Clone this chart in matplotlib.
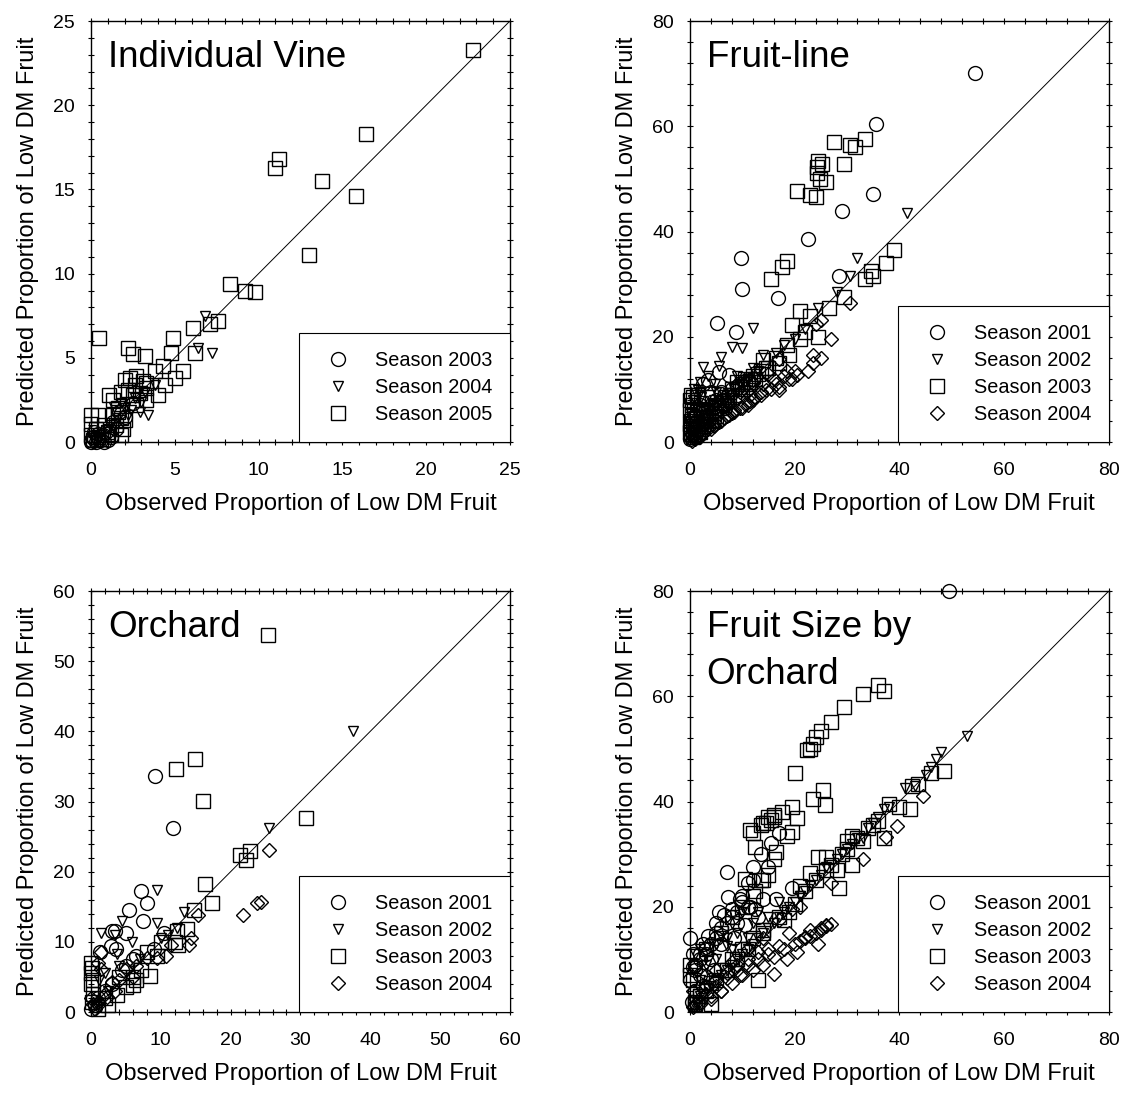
import matplotlib
matplotlib.use('Agg')
import matplotlib.pyplot as plt
from matplotlib.ticker import MultipleLocator

plt.rcParams['font.family'] = ['Liberation Sans', 'DejaVu Sans']

# ---- Individual Vine (2003-2005) ----
vine_2003_x = [0.0, 0.2, 0.5, 1.0, 0.3, 0.1, 0.7, 0.8, 1.2, 0.4, 1.5, 2.0, 1.7, 2.5, 1.3, 0.0, 0.2, 0.6, 0.9]
vine_2003_y = [0.1, 0.2, 0.2, 0.1, 0.0, 0.3, 0.4, 0.0, 0.3, 0.5, 0.8, 1.5, 1.8, 2.3, 1.2, 0.0, 0.6, 0.1, 0.6]
vine_2004_x = [6.8, 6.4, 7.2, 3.4, 2.4, 3.0, 2.0, 1.6, 1.0, 0.4, 1.4, 2.6, 1.8, 0.2, 2.2, 3.8, 3.2, 2.9, 1.2]
vine_2004_y = [7.5, 5.6, 5.3, 1.6, 1.9, 2.4, 2.0, 1.4, 0.8, 0.2, 2.1, 2.6, 2.3, 0.1, 1.6, 3.4, 3.0, 1.8, 1.0]
vine_2005_x = [22.8, 16.4, 11.2, 11.0, 13.8, 15.8, 13.0, 8.3, 9.2, 9.8, 7.6, 7.1, 6.1, 4.9, 0.5,
               2.2, 2.5, 3.2, 4.8, 6.2, 5.5, 4.3, 3.8, 5.0, 4.4, 4.0, 3.3, 2.7, 3.1, 3.3,
               2.0, 2.3, 2.2, 1.8, 1.1, 1.3, 2.5, 2.7, 3.3, 1.6, 1.8, 1.5, 2.0, 1.9, 0.0,
               0.4, 0.0, 0.3, 0.0, 0.4, 1.2, 1.8, 0.8, 1.3, 2.6, 0.1, 0.6, 1.0, 1.6, 2.9]
vine_2005_y = [23.3, 18.3, 16.8, 16.3, 15.5, 14.6, 11.1, 9.4, 9.0, 8.9, 7.2, 7.0, 6.8, 6.2, 6.2,
               5.6, 5.2, 5.1, 5.3, 5.3, 4.2, 4.5, 4.2, 3.8, 3.4, 2.8, 3.2, 3.9, 3.6, 3.5,
               3.7, 3.8, 3.1, 3.0, 2.8, 2.5, 2.8, 2.2, 2.5, 2.0, 1.4, 1.0, 1.3, 0.8, 1.6,
               1.6, 1.1, 0.8, 0.4, 0.3, 0.5, 0.4, 1.0, 1.6, 3.4, 0.1, 0.2, 0.6, 1.8, 2.9]

# ---- Fruit-line (2001-2004) ----
line_2001_x = [54.5, 35.5, 35.0, 29.0, 22.5, 9.8, 10.0, 28.5, 16.8, 5.2, 8.7, 5.5, 7.5, 3.5, 2.5,
               6.0, 4.0, 2.0, 1.0, 0.5, 3.0, 0.2, 1.5, 7.0, 11.0, 9.0, 12.0, 6.6, 4.5, 0.0, 1.2, 2.8,
               0.5, 1.0, 2.0, 3.0, 4.0, 5.0, 6.0, 8.0]
line_2001_y = [70.2, 60.5, 47.2, 44.0, 38.5, 35.0, 29.0, 31.6, 27.3, 22.7, 21.0, 13.4, 12.8, 11.8, 11.0,
               9.2, 9.6, 7.0, 5.0, 3.0, 5.0, 1.0, 2.5, 8.0, 11.5, 10.3, 12.0, 6.5, 4.0, 0.5, 3.0, 4.0,
               1.5, 2.0, 3.5, 6.0, 7.0, 8.0, 9.5, 10.0]
line_2002_x = [41.5, 32.0, 30.5, 28.0, 24.5, 12.0, 18.0, 8.0, 10.0, 6.0, 14.0, 5.5, 2.5, 12.0, 3.5,
               4.8, 2.0, 7.2, 1.5, 0.5, 1.0, 0.3, 3.0, 16.5, 20.0, 22.0, 10.0, 7.0, 3.0, 1.0,
               0.2, 0.8, 2.2, 4.5, 9.0, 5.0, 13.0, 11.0, 0.5, 1.5, 2.5, 3.5, 4.5, 5.5, 6.5, 8.5,
               9.5, 0.0, 1.0, 2.0]
line_2002_y = [43.5, 35.0, 31.5, 28.5, 25.5, 21.7, 18.5, 18.0, 17.8, 16.2, 16.5, 14.5, 14.2, 14.0, 12.5,
               11.0, 11.5, 9.3, 9.8, 8.0, 6.0, 3.0, 6.5, 17.0, 19.5, 21.5, 10.5, 7.3, 3.2, 1.2,
               5.5, 10.0, 8.5, 7.0, 12.5, 9.5, 13.5, 12.0, 2.0, 4.0, 5.0, 6.0, 8.0, 7.5, 9.0, 10.0,
               11.0, 4.0, 8.0, 9.5]
line_2003_x = [24.5, 24.2, 24.3, 25.3, 24.8, 26.0, 27.5, 30.5, 31.5, 33.5, 29.5, 20.5, 23.0, 24.0, 18.5,
               17.5, 15.5, 39.0, 37.5, 34.5, 35.0, 33.5, 29.5, 26.5, 21.0, 19.5, 23.0, 24.5, 22.0, 21.0,
               18.5, 16.5, 19.0, 14.0, 15.0, 12.0, 10.0, 8.0, 6.0, 0.2, 0.5, 1.5, 0.3, 0.1, 0.3,
               0.2, 0.5, 2.0, 4.0, 10.5, 11.0, 17.0, 9.0, 7.0, 5.0, 3.0, 1.0, 0.0, 0.0, 13.0, 2.5,
               0.5, 1.0, 1.5, 2.0, 2.5, 3.0, 3.5, 4.0, 4.5, 5.0, 5.5, 6.5, 7.5, 8.5, 9.5, 10.0,
               11.5, 12.5, 13.5, 14.5, 0.0, 0.2, 0.8, 1.2, 2.2, 3.2]
line_2003_y = [53.5, 52.2, 51.2, 52.8, 50.0, 49.5, 57.0, 56.5, 56.0, 57.5, 52.8, 47.7, 47.0, 46.5, 34.5,
               33.2, 31.0, 36.5, 34.0, 32.5, 31.5, 31.0, 27.5, 25.5, 25.0, 22.3, 24.0, 20.0, 21.0, 19.5,
               18.5, 16.0, 16.5, 15.5, 14.0, 12.5, 11.0, 10.0, 7.5, 9.0, 8.5, 9.0, 7.0, 6.0, 5.0,
               4.0, 3.0, 2.5, 4.2, 12.0, 11.0, 15.0, 11.5, 8.0, 6.0, 3.5, 2.0, 8.0, 2.0, 13.0, 5.5,
               1.0, 1.5, 2.5, 2.0, 3.0, 3.5, 4.5, 4.0, 5.5, 5.0, 6.5, 7.0, 8.5, 9.0, 10.0, 10.5,
               11.5, 12.0, 13.5, 14.0, 3.5, 1.5, 6.0, 4.5, 7.5, 8.5]
line_2004_x = [30.5, 27.0, 25.0, 24.0, 25.0, 23.5, 23.5, 22.5, 20.0, 19.5, 20.5, 17.0, 17.0, 15.5, 13.5,
               12.0, 11.0, 10.0, 8.0, 6.0, 4.0, 2.0, 1.0, 0.3, 15.0, 17.0, 12.0, 9.5, 7.5, 5.0,
               3.0, 1.5, 0.5, 0.5, 1.0, 2.0, 3.5, 5.0, 6.5, 9.0, 10.5, 14.0, 11.5, 8.5, 7.0,
               4.5, 2.5, 0.2, 16.0, 18.5, 1.5, 2.5, 3.5, 4.5, 5.5, 6.5, 7.5, 8.5, 9.5, 10.5,
               11.5, 12.5, 13.5, 14.5, 16.5, 18.0, 19.0, 2.0, 3.0, 4.0, 5.0, 6.0, 7.0, 8.0]
line_2004_y = [26.5, 19.5, 23.2, 22.5, 16.0, 16.5, 15.0, 13.5, 13.5, 12.0, 12.8, 10.5, 9.8, 10.0, 9.0,
               8.0, 7.0, 6.5, 5.5, 4.0, 2.5, 1.0, 0.5, 0.2, 13.0, 15.8, 11.2, 9.5, 7.5, 5.5,
               3.5, 2.0, 1.0, 3.0, 4.0, 6.0, 6.5, 7.5, 8.5, 11.0, 12.0, 11.0, 9.0, 6.0, 5.0,
               3.2, 1.8, 1.5, 12.0, 13.5, 1.0, 1.8, 2.5, 3.0, 3.8, 4.5, 5.2, 5.8, 6.5, 7.2,
               7.8, 8.5, 9.5, 9.8, 11.0, 12.5, 12.0, 4.0, 5.0, 5.5, 6.5, 7.0, 8.0, 9.0]

# ---- Orchard (2001-2004) ----
orch_2001_x = [9.2, 11.8, 7.2, 8.0, 5.5, 7.4, 3.0, 3.5, 5.0, 2.9, 3.6, 1.3, 10.5, 6.5, 6.0, 4.5,
               2.0, 1.0, 0.5, 0.0, 9.0, 3.0, 5.0]
orch_2001_y = [33.6, 26.3, 17.3, 15.5, 14.5, 13.0, 11.5, 11.5, 11.2, 9.4, 9.0, 8.5, 11.2, 8.0, 7.5, 6.0,
               3.0, 2.0, 1.0, 0.5, 9.0, 4.0, 6.5]
orch_2002_x = [37.5, 25.5, 9.5, 4.5, 13.3, 9.5, 1.5, 3.5, 5.8, 12.3, 11.0, 3.7, 4.0, 2.0, 1.2,
               7.0, 10.0, 0.5, 2.5]
orch_2002_y = [40.0, 26.2, 17.4, 13.0, 14.2, 12.7, 11.2, 11.0, 10.0, 12.0, 11.0, 8.3, 6.6, 5.5, 4.5,
               7.5, 10.5, 1.0, 3.0]
orch_2003_x = [25.3, 14.9, 12.2, 16.1, 30.8, 22.8, 21.3, 22.2, 16.3, 17.3, 14.8, 13.7, 12.3, 12.0, 12.5,
               10.0, 9.5, 8.0, 8.5, 6.5, 7.2, 6.0, 5.0, 3.7, 2.5, 0.0, 0.1, 0.0, 0.3, 0.0,
               0.3, 0.1, 2.0, 4.0, 6.0, 1.0]
orch_2003_y = [53.8, 36.0, 34.6, 30.1, 27.6, 23.0, 22.4, 21.7, 18.2, 15.5, 14.6, 11.8, 11.5, 10.0, 9.5,
               10.0, 8.0, 8.5, 5.2, 4.5, 6.0, 3.8, 3.5, 2.4, 1.0, 7.0, 6.3, 5.5, 4.5, 4.0,
               2.5, 1.5, 2.0, 5.0, 5.0, 0.5]
orch_2004_x = [25.5, 23.8, 24.3, 21.8, 15.3, 14.3, 14.1, 11.5, 10.8, 9.5, 8.0, 6.5, 5.0, 6.0, 4.0,
               3.0, 2.0, 1.0, 0.5, 1.5, 1.0, 1.5, 0.3, 2.3, 3.5, 0.0, 1.0]
orch_2004_y = [23.1, 15.6, 15.7, 13.9, 13.8, 10.5, 9.5, 9.5, 8.0, 7.7, 7.7, 6.5, 6.2, 5.0, 4.5,
               4.3, 2.5, 1.5, 0.5, 8.5, 7.0, 6.2, 1.2, 2.2, 3.0, 2.0, 1.0]

# ---- Fruit Size by Orchard (2001-2004) ----
size_2001_x = [49.5, 7.0, 15.5, 13.5, 12.0, 15.0, 11.0, 14.0, 9.5, 10.0, 7.3, 6.5, 5.0, 5.0, 3.5,
               0.0, 3.0, 2.0, 1.0, 0.5, 0.0, 2.0, 1.0, 8.0, 17.0, 11.5, 12.5, 16.5, 19.5, 6.0,
               4.0, 9.0, 8.5, 10.5, 13.0, 4.5, 2.5, 0.3, 1.0, 2.0, 3.0, 4.0, 5.0, 6.0, 7.0,
               8.0, 9.0, 10.0, 11.0, 12.0, 2.5, 5.5, 0.5]
size_2001_y = [80.0, 26.7, 32.2, 30.0, 27.5, 27.5, 24.5, 21.5, 21.5, 22.0, 21.8, 18.5, 17.0, 15.0, 14.5,
               14.0, 12.0, 11.0, 9.0, 8.5, 6.0, 7.0, 4.0, 19.5, 34.0, 20.0, 19.5, 21.5, 23.5, 13.0,
               10.0, 17.0, 14.0, 16.5, 18.0, 8.0, 5.0, 2.0, 8.0, 10.0, 11.0, 13.0, 14.0, 16.0, 17.0,
               18.0, 19.0, 21.0, 20.0, 25.0, 13.0, 19.0, 11.0]
size_2002_x = [53.0, 48.0, 47.0, 46.0, 45.0, 43.0, 41.0, 37.0, 34.0, 33.0, 31.0, 30.0, 28.0, 25.0, 22.0,
               20.0, 18.0, 16.0, 14.0, 12.0, 10.0, 8.0, 6.0, 4.0, 2.0, 1.0, 2.0, 4.0, 6.0, 9.0,
               12.0, 10.0, 3.0, 2.0, 7.0, 5.0, 15.0, 0.5, 26.0, 11.0, 0.5, 1.5, 2.5, 3.5, 5.0,
               7.0, 9.0, 11.0, 13.0, 15.0, 17.0, 19.0, 21.0, 23.0, 24.0, 27.0, 29.0, 32.0, 35.0, 36.0,
               38.0, 3.0, 5.0, 7.0, 8.0, 13.0, 17.0, 21.0]
size_2002_y = [52.5, 49.5, 48.0, 46.5, 45.0, 43.0, 42.5, 38.5, 35.0, 33.0, 32.0, 31.0, 29.0, 26.0, 23.0,
               21.0, 19.0, 17.0, 15.0, 13.0, 11.0, 9.0, 7.0, 5.0, 3.0, 11.0, 12.0, 13.0, 14.5, 15.0,
               17.0, 19.0, 9.0, 6.0, 12.5, 10.0, 18.0, 2.0, 27.5, 14.0, 1.0, 2.0, 3.5, 4.5, 6.0,
               8.0, 10.0, 12.0, 14.0, 16.0, 18.0, 20.0, 22.0, 24.0, 25.0, 28.0, 30.0, 33.0, 36.0, 37.0,
               39.0, 11.0, 13.0, 14.0, 12.0, 19.0, 21.0, 22.0]
size_2003_x = [36.0, 37.0, 33.0, 29.5, 27.0, 25.0, 24.0, 23.5, 23.0, 22.3, 20.0, 25.5, 23.5, 25.8, 19.5,
               20.5, 17.5, 16.0, 15.0, 14.5, 13.5, 11.5, 12.0, 19.5, 18.5, 12.5, 16.5, 16.0, 13.5, 10.5,
               12.5, 48.5, 46.0, 43.5, 42.5, 38.0, 42.0, 40.0, 36.0, 35.0, 37.0, 33.0, 31.0, 30.0, 31.0,
               28.0, 26.0, 24.5, 23.0, 28.5, 21.0, 20.0, 19.0, 13.0, 18.0, 14.0, 12.0, 10.0, 8.0, 6.0,
               4.0, 2.0, 4.0, 0.0, 0.0, 1.0, 16.0, 15.5, 14.0, 1.0, 2.0, 3.0, 5.0, 7.0, 9.0,
               11.0, 14.0, 17.0, 22.0, 24.0, 26.0, 27.0, 29.0, 30.0, 32.0, 34.0, 3.0, 6.0, 8.0, 10.0,
               12.0, 14.0, 15.0, 0.5]
size_2003_y = [62.2, 61.0, 60.5, 58.0, 55.2, 53.5, 52.3, 51.0, 50.0, 49.8, 45.5, 42.2, 40.5, 39.3, 39.0,
               36.8, 38.0, 37.0, 37.0, 36.0, 35.5, 34.5, 34.0, 34.2, 33.5, 31.3, 30.5, 29.0, 25.0, 25.2,
               23.0, 45.8, 45.5, 43.3, 43.0, 39.5, 38.5, 39.0, 36.3, 35.5, 33.0, 32.5, 33.5, 32.5, 28.0,
               27.0, 29.5, 29.5, 26.5, 23.5, 24.0, 20.5, 19.0, 6.0, 17.5, 15.5, 14.0, 12.0, 10.0, 8.0,
               5.5, 3.0, 1.5, 9.0, 7.0, 2.0, 37.5, 36.5, 36.0, 1.5, 3.0, 4.0, 6.0, 8.0, 10.0,
               12.0, 15.0, 18.0, 23.0, 25.0, 27.0, 28.0, 30.0, 31.0, 33.0, 35.0, 12.0, 15.0, 18.0, 20.0,
               22.0, 25.0, 26.0, 6.0]
size_2004_x = [44.5, 39.5, 37.5, 33.0, 27.0, 27.0, 26.0, 25.0, 24.0, 23.0, 22.0, 21.0, 20.5, 24.5, 18.5,
               16.0, 17.0, 15.0, 13.0, 11.0, 9.0, 7.0, 5.0, 3.0, 1.0, 21.0, 19.5, 17.0, 14.0, 11.0,
               8.0, 5.0, 3.0, 1.0, 0.5, 2.0, 13.0, 9.5, 0.5, 6.0, 4.0, 2.0, 4.0, 6.0, 8.0,
               10.0, 12.0, 14.0, 16.0, 18.0, 20.0, 22.0, 23.0, 25.0, 26.0, 3.0, 5.0, 7.0, 9.0, 11.0,
               15.0, 19.0]
size_2004_y = [41.0, 35.3, 33.2, 29.0, 24.5, 16.8, 16.3, 15.5, 15.0, 14.5, 14.2, 13.5, 11.5, 13.0, 10.0,
               7.2, 12.5, 11.0, 10.0, 9.0, 8.0, 6.5, 5.0, 3.5, 1.5, 20.0, 19.5, 17.5, 14.0, 12.0,
               9.5, 8.0, 7.0, 9.0, 4.0, 2.0, 11.5, 7.0, 1.0, 4.0, 2.5, 1.5, 3.0, 4.0, 5.5,
               7.0, 8.0, 9.0, 10.5, 12.0, 13.0, 14.0, 15.5, 16.0, 16.5, 5.0, 6.0, 7.5, 9.0, 10.0,
               12.0, 15.0]

marker_style = {
    'Season 2001': dict(marker='o', ms=10.0),
    'Season 2002': dict(marker='v', ms=7.0),
    'Season 2003': dict(marker='s', ms=9.5),
    'Season 2004': dict(marker='D', ms=7.0),
}

panels = [
    ('Individual Vine', 25, 5, [('Season 2003', vine_2003_x, vine_2003_y),
                                ('Season 2004', vine_2004_x, vine_2004_y),
                                ('Season 2005', vine_2005_x, vine_2005_y)]),
    ('Fruit-line', 80, 20, [('Season 2001', line_2001_x, line_2001_y),
                            ('Season 2002', line_2002_x, line_2002_y),
                            ('Season 2003', line_2003_x, line_2003_y),
                            ('Season 2004', line_2004_x, line_2004_y)]),
    ('Orchard', 60, 10, [('Season 2001', orch_2001_x, orch_2001_y),
                         ('Season 2002', orch_2002_x, orch_2002_y),
                         ('Season 2003', orch_2003_x, orch_2003_y),
                         ('Season 2004', orch_2004_x, orch_2004_y)]),
    ('Fruit Size by\nOrchard', 80, 20, [('Season 2001', size_2001_x, size_2001_y),
                                        ('Season 2002', size_2002_x, size_2002_y),
                                        ('Season 2003', size_2003_x, size_2003_y),
                                        ('Season 2004', size_2004_x, size_2004_y)]),
]

fig = plt.figure(figsize=(11.32, 10.98), dpi=100)
positions = [(0.0804, 0.5974), (0.6095, 0.5974), (0.0804, 0.0783), (0.6095, 0.0783)]
# vine panel: 2003 circle, 2004 triangle, 2005 square
vine_markers = {'Season 2003': 'Season 2001', 'Season 2004': 'Season 2002', 'Season 2005': 'Season 2003'}

for i, (title, lim, major, series) in enumerate(panels):
    ax = fig.add_axes([positions[i][0], positions[i][1], 0.370, 0.3834])
    for name, xs, ys in series:
        key = vine_markers[name] if i == 0 else name
        st = marker_style[key]
        ax.plot(xs, ys, linestyle='none', marker=st['marker'], ms=st['ms'],
                mfc='none', mec='black', mew=1.0, label=name, clip_on=False)
    ax.plot([0, lim], [0, lim], color='black', lw=0.7)
    ax.set_xlim(0, lim)
    ax.set_ylim(0, lim)
    ax.xaxis.set_major_locator(MultipleLocator(major))
    ax.yaxis.set_major_locator(MultipleLocator(major))
    ax.xaxis.set_minor_locator(MultipleLocator(major / 5))
    ax.yaxis.set_minor_locator(MultipleLocator(major / 5))
    ax.tick_params(which='both', top=True, right=True, labelsize=14, width=0.8)
    ax.tick_params(which='major', direction='inout', length=5)
    ax.tick_params(which='minor', direction='inout', length=4)
    ax.tick_params(axis='x', which='major', pad=12)
    ax.tick_params(axis='y', which='major', pad=9)
    for sp in ax.spines.values():
        sp.set_linewidth(1.0)
    ax.set_xlabel('Observed Proportion of Low DM Fruit', fontsize=17, labelpad=10)
    ax.set_ylabel('Predicted Proportion of Low DM Fruit', fontsize=17, labelpad=10)
    ax.text(0.04, 0.955, title, transform=ax.transAxes, fontsize=26.5, va='top', ha='left',
            linespacing=1.45)
    leg = ax.legend(loc='lower right', fontsize=14.3, frameon=True, fancybox=False,
                    edgecolor='black', framealpha=1, borderaxespad=0, borderpad=0.9,
                    handlelength=2.1, handletextpad=0.8, labelspacing=0.4)
    leg.get_frame().set_linewidth(0.8)

fig.savefig('out.png', dpi=100)
